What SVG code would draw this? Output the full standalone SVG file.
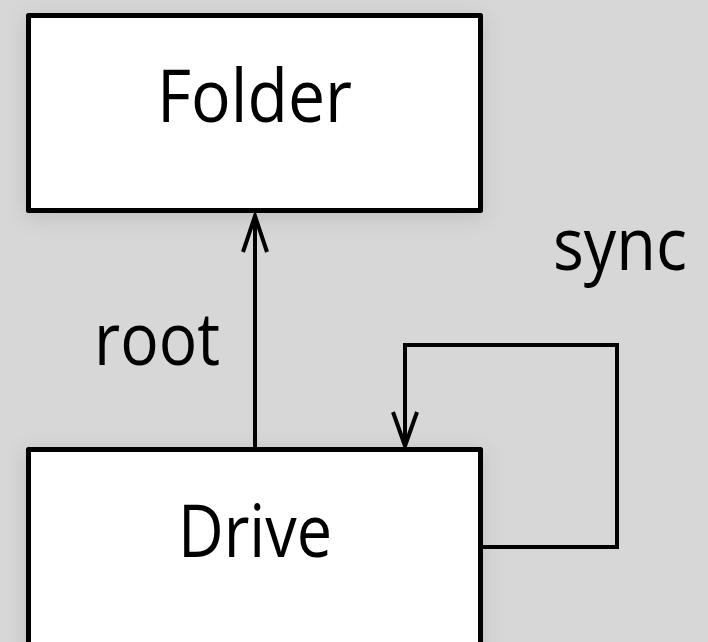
<svg xmlns="http://www.w3.org/2000/svg" width="708" height="642" viewBox="0 0 708 642">
  <defs>
    <filter id="shadow" x="-20%" y="-20%" width="140%" height="140%">
      <feDropShadow dx="0" dy="4" stdDeviation="10" flood-color="#000" flood-opacity="0.12"/>
    </filter>
    <style>
      .box { fill: #ffffff; stroke: #000; stroke-width: 5; stroke-linejoin: round; }
      .lbl { font-family: "Open Sans", "Liberation Sans", Arial, sans-serif; font-weight: 370; font-size: 74px; fill: #000; }
      .edge { fill: none; stroke: #000; stroke-width: 4; stroke-linejoin: miter; }
    </style>
  </defs>
  <rect width="708" height="642" fill="#d7d7d7"/>
  <g id="node-folder">
    <rect class="box" x="28.5" y="15.5" width="452" height="195" filter="url(#shadow)"/>
    <text class="lbl" x="157" y="122" textLength="195" lengthAdjust="spacingAndGlyphs">Folder</text>
  </g>
  <g id="node-drive">
    <rect class="box" x="28.5" y="449.5" width="452" height="260" filter="url(#shadow)"/>
    <text class="lbl" x="178" y="557" textLength="154" lengthAdjust="spacingAndGlyphs">Drive</text>
  </g>
  <g id="connectors">
    <g id="edge-root">
      <line class="edge" x1="255" y1="447" x2="255" y2="218"/>
      <polyline class="edge" points="243,252 255,216 267,252"/>
      <text class="lbl" x="94" y="365" textLength="126" lengthAdjust="spacingAndGlyphs">root</text>
    </g>
    <g id="edge-sync">
      <path class="edge" d="M483 547 H617 V345 H405 V444"/>
      <polyline class="edge" points="393,412 405,446 417,412"/>
      <text class="lbl" x="553" y="270" textLength="134" lengthAdjust="spacingAndGlyphs">sync</text>
    </g>
  </g>
</svg>
